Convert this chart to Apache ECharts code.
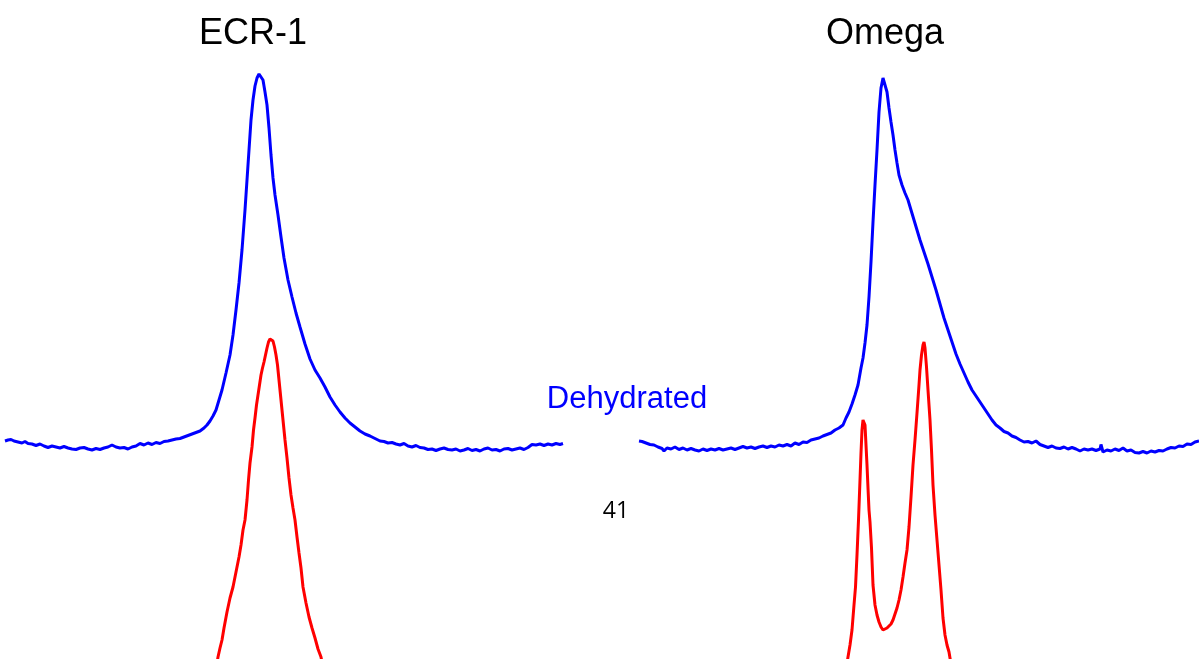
<!DOCTYPE html>
<html>
<head>
<meta charset="utf-8">
<script src="https://cdn.jsdelivr.net/npm/echarts@6/dist/echarts.min.js"></script>
<style>
html,body{margin:0;padding:0;background:#fff;}
#chart{width:1199px;height:659px;}
</style>
</head>
<body>
<div id="chart"></div>
<script>
// Panel titles and annotations
const panelTitles = ['ECR-1', 'Omega'];
const stateLabel = 'Dehydrated';
const pageNumber = '41';

// Stacked spectra: [position, intensity] (blue baseline ~0)
const ecrDehydrated = [
[5,9],[8,10],[11,10.5],[14,9],[18,8],[22,7],[25,8.5],[28,6.5],[32,6],[36,4.5],[40,6],[44,4],[48,2.5],[52,4],[56,3],[60,2],[64,3.5],[68,2],[72,1],[76,0.5],[80,2],[84,2.5],[88,1],[92,0],[96,1.5],[100,0.5],[104,2],[108,3],[112,5],[116,3],[120,2],[124,2.5],[128,1],[132,3],[136,4],[140,6.5],[144,5],[148,7],[152,5.5],[156,7.5],[160,6.5],[164,8.5],[168,9],[172,10],[176,11],[180,11.5],[184,13],[188,14.5],[192,16],[196,17.5],[200,19],[204,22],[207,25],[210,29],[213,34],[216,40],[219,50],[222,60],[226,77],[230,95],[233,115],[236,140],[239,167],[242,200],[245,240],[247,270],[249,300],[251,330],[253,350],[255,364],[257,372],[259,376],[261,376],[263,370],[265,358],[267,345],[269,322],[271,295],[273,272],[275,255],[278,235],[281,213],[284,192],[288,170],[292,153],[296,137],[300,123],[305,106],[310,91],[315,80],[320,72],[325,63],[330,53],[335,45],[340,38],[345,32],[350,27],[355,23],[360,19],[365,16],[370,14],[375,11.5],[380,9],[384,8.5],[388,7],[392,7.5],[396,6],[400,5],[404,6.5],[408,4],[412,3],[416,4.5],[420,2.5],[424,2],[428,0.5],[432,1],[436,-0.5],[440,1],[444,2],[448,0.5],[452,0],[456,1],[460,-1],[464,0],[468,1.5],[472,-0.5],[476,0.5],[480,-1],[484,1],[488,2],[492,0],[496,0.5],[500,-1],[504,1],[508,1.5],[512,0],[516,1],[520,2],[524,0.5],[528,2.5],[532,5.5],[536,5],[540,6],[544,4.5],[548,6],[552,5],[556,6.5],[560,5.5],[563,6.5]
];
const ecrHydrated = [
[216,-220],[218,-207],[220,-198],[222,-190],[224,-178],[227,-162],[230,-148],[233,-137],[236,-122],[239,-107],[241,-95],[243,-80],[245,-70],[247,-50],[248.5,-30],[250,-13],[252,3],[253.5,20],[255,32],[256.5,45],[258,55],[259.5,65],[261,75],[262.5,82],[264,88],[265.5,95],[267,102],[268.5,108],[270,111],[271.5,112],[273,109],[274.5,103],[276,95],[277.5,85],[279,70],[280.5,55],[282,40],[283.5,25],[285,10],[287,-8],[289,-28],[291,-45],[293,-58],[295,-70],[297,-87],[299,-103],[301,-118],[303,-137],[306,-153],[309,-167],[312,-178],[315,-188],[318,-199],[321,-207],[323,-218]
];
const omegaDehydrated = [
[639,9],[642,8.5],[646,7],[650,5.5],[654,5],[658,3],[662,1.5],[664,-1],[667,2],[671,1],[675,3],[679,0.5],[683,2],[687,0],[691,1.5],[695,0],[699,-1],[703,1],[707,-0.5],[711,1],[715,0],[719,1.5],[723,0],[727,1],[731,2],[735,0.5],[739,2],[743,3.5],[747,2],[751,3],[755,1.5],[759,3],[763,4],[767,2.5],[771,4],[775,3],[779,5],[783,4],[787,5.5],[791,4],[795,7],[799,5.5],[803,8],[807,7.5],[811,10],[815,11],[819,12],[823,14],[827,15.5],[831,17],[835,20],[839,22],[843,25],[846,32],[849,38],[852,46],[855,55],[858,65],[861,82],[863,92],[865,107],[867,125],[869,153],[871,188],[873,228],[875,265],[877,300],[879,338],[881,362],[883,372],[885,370],[887,358],[889,342],[891,328],[893,315],[895,300],[897,287],[899,275],[902,265],[905,257],[908,250],[911,240],[914,230],[917,220],[920,210],[924,198],[928,186],[932,173],[936,160],[940,146],[944,132],[948,120],[952,108],[956,96],[960,86],[964,77],[968,68],[972,60],[976,54],[980,48],[984,42],[988,36],[992,30],[996,25],[1000,22],[1004,18.5],[1008,17],[1012,14],[1016,12.5],[1020,10],[1024,8],[1028,8.5],[1032,7],[1036,9],[1040,5.5],[1044,4],[1048,2.5],[1052,4],[1056,2],[1060,1.5],[1064,3],[1068,1],[1072,2.5],[1076,1],[1080,-1],[1084,1],[1088,0],[1092,1],[1096,-0.5],[1100,1],[1101,5.5],[1103,-2],[1107,0],[1111,-1],[1115,1],[1119,-0.5],[1123,2],[1127,-1],[1131,0],[1135,-2.5],[1139,-3],[1143,-1.5],[1147,-3],[1151,-1],[1155,-2],[1159,-0.5],[1163,-1],[1167,1],[1171,2.5],[1175,2],[1179,4],[1183,3.5],[1187,6],[1191,5.5],[1195,8],[1199,9]
];
const omegaHydrated = [
[846,-220],[848,-207],[850,-195],[852,-180],[854,-155],[855.5,-137],[857,-105],[858.5,-70],[860,-30],[861,-3],[862,20],[863,30],[864,32],[865,25],[866,5],[867,-15],[868,-38],[869,-60],[870,-72],[871.5,-98],[873,-135],[875,-155],[877,-165],[879,-172],[881,-177],[883,-180],[885,-181],[887,-178],[889,-177],[891,-174],[893,-170],[895,-164],[897,-158],[899,-150],[901,-140],[903,-127],[905,-113],[907,-100],[909,-77],[911,-47],[913,-15],[915,10],[917,37],[919,65],[920,80],[921.5,95],[923,105],[924,108],[925,102],[926.5,83],[928,60],[930,30],[931.5,0],[933,-35],[935,-65],[937,-90],[939,-115],[941,-140],[943,-168],[945,-185],[947,-195],[949,-202],[951,-214]
];

const chart = echarts.init(document.getElementById('chart'), null, {renderer: 'canvas'});
function lineSeries(name, data, color) {
  return {
    name: name, type: 'line', data: data, showSymbol: false, symbol: 'none',
    clip: true, smooth: false,
    lineStyle: {color: color, width: 3}, itemStyle: {color: color}
  };
}
chart.setOption({
  animation: false,
  backgroundColor: '#ffffff',
  grid: {left: 0, right: 0, top: 0, bottom: 0, containLabel: false},
  xAxis: {type: 'value', min: 0, max: 1199, show: false},
  yAxis: {type: 'value', min: -209, max: 450, show: false},
  series: [
    lineSeries('ECR-1 dehydrated', ecrDehydrated, '#0000ff'),
    lineSeries('ECR-1 hydrated', ecrHydrated, '#ff0000'),
    lineSeries('Omega dehydrated', omegaDehydrated, '#0000ff'),
    lineSeries('Omega hydrated', omegaHydrated, '#ff0000')
  ],
  graphic: [
    {type: 'text', x: 253, y: 34, style: {text: panelTitles[0], fill: '#000', font: '36px "Liberation Sans", Arial, sans-serif', textAlign: 'center', textVerticalAlign: 'middle'}},
    {type: 'text', x: 885, y: 34, style: {text: panelTitles[1], fill: '#000', font: '36px "Liberation Sans", Arial, sans-serif', textAlign: 'center', textVerticalAlign: 'middle'}},
    {type: 'text', x: 627, y: 399, style: {text: stateLabel, fill: '#0000ff', font: '31px "Liberation Sans", Arial, sans-serif', textAlign: 'center', textVerticalAlign: 'middle'}},
    {type: 'text', x: 616, y: 511, style: {text: pageNumber, fill: '#000', font: '23px "Open Sans", "Noto Sans", sans-serif', textAlign: 'center', textVerticalAlign: 'middle'}}
  ]
});
</script>
</body>
</html>
